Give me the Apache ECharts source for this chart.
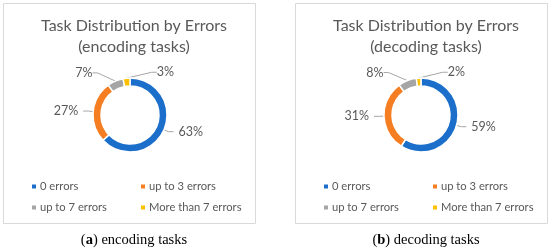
<!DOCTYPE html>
<html>
<head>
<meta charset="utf-8">
<script src="https://cdn.jsdelivr.net/npm/echarts@6/dist/echarts.min.js"></script>
<style>
html,body{margin:0;padding:0;background:#fff;}
#c{width:550px;height:251px;}
</style>
</head>
<body>
<div id="c"></div>
<script>
const categories = ['0 errors', 'up to 3 errors', 'up to 7 errors', 'More than 7 errors'];
const encodingValues = [63, 27, 7, 3];
const decodingValues = [59, 31, 8, 2];
const chartTitles = ['Task Distribution by Errors\n(encoding tasks)', 'Task Distribution by Errors\n(decoding tasks)'];
const captionLetters = ['a', 'b'];
const captionTexts = [' encoding tasks', ' decoding tasks'];
const colors = ['#1B6EC9', '#F67E22', '#A5A5A5', '#FFC000'];

const FONT = 'Lato';
const TXT = '#595959';
const panels = [
  {left: 3, width: 252, cx: 130, values: encodingValues},
  {left: 295, width: 252, cx: 421, values: decodingValues}
];

const chart = echarts.init(document.getElementById('c'), null, {renderer: 'canvas'});

const titles = [], legends = [], series = [], graphics = [];
panels.forEach((p, i) => {
  graphics.push({type: 'rect', shape: {x: p.left + 0.5, y: 3.5, width: p.width, height: 220},
    style: {fill: 'none', stroke: '#D9D9D9', lineWidth: 1}, silent: true});
  titles.push({text: chartTitles[i], left: p.left + p.width / 2, top: 10, textAlign: 'center',
    textStyle: {fontFamily: FONT, fontSize: 16, fontWeight: 'normal', color: TXT, lineHeight: 21}});
  titles.push({text: '(' + '{b|' + captionLetters[i] + '}' + ')' + captionTexts[i],
    left: p.left + p.width / 2, top: 228, textAlign: 'center',
    textStyle: {fontFamily: 'Liberation Serif', fontSize: 14.5, fontWeight: 'normal', color: '#000',
      rich: {b: {fontFamily: 'Liberation Serif', fontSize: 14.5, fontWeight: 'bold', color: '#000'}}}});
  const legBase = {orient: 'vertical', top: 176, itemGap: 10, itemWidth: 6, itemHeight: 6, icon: 'rect',
    textStyle: {fontFamily: FONT, fontSize: 11.2, color: TXT, padding: [0, 0, 0, -2]}, selectedMode: false};
  legends.push(Object.assign({}, legBase, {left: p.left + 22, data: [categories[0], categories[2]]}));
  legends.push(Object.assign({}, legBase, {left: p.left + 131, data: [categories[1], categories[3]]}));
  series.push({
    type: 'pie', name: 'panel' + i, center: [p.cx, 115], radius: [29, 37],
    startAngle: 90, clockwise: true, avoidLabelOverlap: false, silent: true,
    itemStyle: {borderColor: '#fff', borderWidth: 1.5},
    label: {show: true, position: 'outside', formatter: '{c}%', fontFamily: FONT, fontSize: 12.5, color: TXT},
    labelLine: {show: true, length: 5, length2: 5, lineStyle: {color: '#A6A6A6', width: 1}},
    labelLayout: function (prm) {
      if (prm.dataIndex === 3) {
        return {x: prm.rect.x + prm.rect.width + 26, y: prm.rect.y - 5, align: 'left', verticalAlign: 'middle'};
      }
      if (prm.dataIndex === 2) {
        return {x: prm.rect.x - 15, y: prm.rect.y - 5, align: 'right', verticalAlign: 'middle'};
      }
      return {};
    },
    data: categories.map((c, k) => ({name: c, value: p.values[k], itemStyle: {color: colors[k]}}))
  });
});

chart.setOption({
  animation: false,
  color: colors,
  title: titles,
  legend: legends,
  graphic: graphics,
  series: series
});
</script>
</body>
</html>
